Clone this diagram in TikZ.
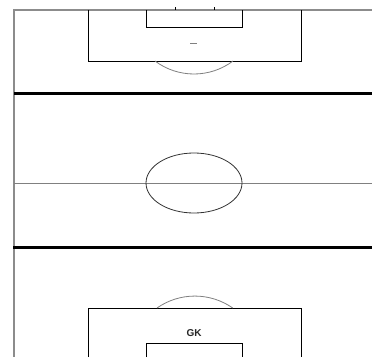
\documentclass[tikz,border=0pt]{standalone}
\usepackage{fontspec}
\setsansfont{Liberation Sans}
\usepackage{xcolor}
\usepackage{tikz}
\usetikzlibrary{positioning, calc}

\begin{document}
\begin{tikzpicture}[
  x=1pt, y=1pt,
  font=\sffamily\bfseries\normalsize,
  touch/.style={draw=gray!90, line width=1.2pt},
  half/.style={draw=black, line width=3pt},
  boxline/.style={draw=black, line width=0.9pt},
  faint/.style={draw=gray, line width=0.8pt},
  lbl/.style={inner sep=0pt, text=black!85}
]
\useasboundingbox (0,0) rectangle (372,357);
\fill[white] (0,0) rectangle (372,357);
% outer lines
\draw[touch] (372,347) -- (14,347) -- (14,0);
% top end
\draw[boxline] (88,347) -- (88,296) -- (301,296) -- (301,347);
\draw[boxline] (146,347) -- (146,330) -- (242,330) -- (242,347);
\draw[boxline] (175,347) -- (175,350) (214,347) -- (214,350);
\draw[faint] (190,314) -- (197,314);
\draw[faint] (155,296) arc[start angle=233.13, end angle=306.87, radius=65];
% thick bands
\draw[half] (14,264) -- (372,264);
\draw[half] (13,110) -- (372,110);
% centre
\draw[faint] (14,174) -- (372,174);
\draw[faint, draw=black!80] (194,174) ellipse[x radius=48, y radius=30];
% bottom end
\draw[boxline] (88,0) -- (88,49) -- (301,49) -- (301,0);
\draw[faint] (157,49) arc[start angle=125, end angle=55, radius=66];
\node[lbl] (gk) at (194,24) {GK};
\draw[boxline] (146,0) -- (146,14) -- (242,14) -- (242,0);
\end{tikzpicture}
\end{document}
